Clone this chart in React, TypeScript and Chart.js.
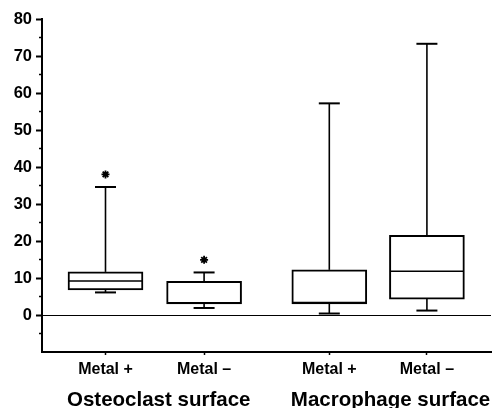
import React, { useEffect, useRef } from "react";
import { Chart, registerables } from "chart.js";

Chart.register(...registerables);

// ---- data ----
const categories = ["Metal +", "Metal –", "Metal +", "Metal –"];
const positions = [1, 2, 3.27, 4.26];
const groups = ["Osteoclast surface", "Macrophage surface"];
const groupFirst = [0, 2];
const whiskerLow = [6.1, 1.9, 0.4, 1.2];
const q1 = [6.8, 3.0, 3.0, 4.3];
const median = [9.2, 3.3, 3.4, 11.8];
const q3 = [11.65, 9.1, 12.2, 21.5];
const whiskerHigh = [34.6, 11.5, 57.2, 73.3];
const outliers: (number | null)[] = [38.0, 14.9, null, null];
const yMin = -10;
const yMax = 80;
const yStep = 5;

const FONT = "'Liberation Sans', Arial, Helvetica, sans-serif";
const BOX_W = 75;
const CAP_W = 21;

const boxPlugin = {
  id: "boxExtras",
  afterDatasetsDraw(chart: any) {
    const { ctx, scales, chartArea } = chart;
    const x = scales.x;
    const y = scales.y;
    ctx.save();
    ctx.strokeStyle = "#000";
    ctx.lineCap = "butt";
    positions.forEach((p, i) => {
      const px = x.getPixelForValue(p);
      const half = BOX_W / 2;
      ctx.lineWidth = 1.5;
      const ym = y.getPixelForValue(median[i]);
      ctx.beginPath();
      ctx.moveTo(px - half + 1, ym);
      ctx.lineTo(px + half - 1, ym);
      ctx.stroke();
      const yq3 = y.getPixelForValue(q3[i]);
      const yhi = y.getPixelForValue(whiskerHigh[i]);
      ctx.lineWidth = 1.6;
      ctx.beginPath();
      ctx.moveTo(px, yq3);
      ctx.lineTo(px, yhi);
      ctx.stroke();
      ctx.lineWidth = 2;
      ctx.beginPath();
      ctx.moveTo(px - CAP_W / 2, yhi);
      ctx.lineTo(px + CAP_W / 2, yhi);
      ctx.stroke();
      const yq1 = y.getPixelForValue(q1[i]);
      const ylo = y.getPixelForValue(whiskerLow[i]);
      ctx.lineWidth = 1.6;
      ctx.beginPath();
      ctx.moveTo(px, yq1);
      ctx.lineTo(px, ylo);
      ctx.stroke();
      ctx.lineWidth = 2;
      ctx.beginPath();
      ctx.moveTo(px - CAP_W / 2, ylo);
      ctx.lineTo(px + CAP_W / 2, ylo);
      ctx.stroke();
    });
    ctx.lineWidth = 1.5;
    for (let v = yMin + yStep; v < yMax; v += 2 * yStep) {
      const yy = y.getPixelForValue(v);
      ctx.beginPath();
      ctx.moveTo(chartArea.left - 3, yy);
      ctx.lineTo(chartArea.left, yy);
      ctx.stroke();
    }
    ctx.fillStyle = "#000";
    ctx.font = `bold 20.5px ${FONT}`;
    ctx.textAlign = "left";
    ctx.textBaseline = "alphabetic";
    groups.forEach((g, gi) => {
      const px = x.getPixelForValue(positions[groupFirst[gi]]) - BOX_W / 2 - 1;
      ctx.fillText(g, px, chart.height - 2);
    });
    ctx.restore();
  },
};

export default function App() {
  const ref = useRef<HTMLCanvasElement>(null);
  useEffect(() => {
    if (!ref.current) return;
    const chart = new Chart(ref.current, {
      type: "bar",
      data: {
        datasets: [
          {
            type: "bar",
            data: positions.map((p, i) => ({ x: p, y: [q1[i], q3[i]] })) as any,
            backgroundColor: "#fff",
            borderColor: "#000",
            borderWidth: 2,
            borderSkipped: false,
            barThickness: BOX_W,
          } as any,
          {
            type: "scatter",
            data: positions
              .map((p, i) => (outliers[i] == null ? null : { x: p, y: outliers[i] }))
              .filter((d) => d !== null) as any,
            pointStyle: "star",
            radius: 4,
            borderWidth: 1.8,
            borderColor: "#000",
            backgroundColor: "#000",
          } as any,
        ],
      },
      options: {
        animation: false,
        responsive: true,
        maintainAspectRatio: false,
        layout: { autoPadding: false, padding: { top: 19, right: 1, left: 0, bottom: 0 } },
        plugins: { legend: { display: false }, tooltip: { enabled: false } },
        scales: {
          x: {
            type: "linear",
            min: 0.356,
            max: 4.91,
            offset: false,
            afterBuildTicks: (scale: any) => {
              scale.ticks = positions.map((v) => ({ value: v }));
            },
            afterFit: (scale: any) => {
              scale.height = 56;
              scale.paddingLeft = 0;
              scale.paddingRight = 0;
            },
            ticks: {
              autoSkip: false,
              maxRotation: 0,
              padding: 5,
              color: "#000",
              font: { family: FONT, size: 16, weight: "bold" },
              callback: (_v: any, idx: number) => categories[idx],
            },
            grid: {
              offset: false,
              drawOnChartArea: false,
              tickLength: 3,
              tickColor: "#000",
              tickWidth: 1.5,
            },
            border: { display: true, color: "#000", width: 2 },
          },
          y: {
            type: "linear",
            min: yMin,
            max: yMax,
            afterFit: (scale: any) => {
              scale.width = 42;
            },
            ticks: {
              stepSize: yStep,
              autoSkip: false,
              padding: 4,
              color: "#000",
              font: { family: FONT, size: 16.5, weight: "bold" },
              callback: (v: any) => (v % 10 === 0 && v >= 0 ? String(v) : ""),
            },
            grid: {
              drawOnChartArea: true,
              color: (c: any) => (c.tick && c.tick.value === 0 ? "#000" : "rgba(0,0,0,0)"),
              lineWidth: 1,
              tickLength: 6,
              tickWidth: 2,
              tickColor: (c: any) =>
                c.tick && c.tick.value % 10 === 0 && c.tick.value >= 0 ? "#000" : "rgba(0,0,0,0)",
            },
            border: { display: true, color: "#000", width: 2 },
          },
        },
      } as any,
      plugins: [boxPlugin],
    });
    return () => chart.destroy();
  }, []);
  return (
    <div style={{ position: "fixed", left: 0, top: 0, width: 492, height: 408, background: "#fff" }}>
      <canvas ref={ref} />
    </div>
  );
}
